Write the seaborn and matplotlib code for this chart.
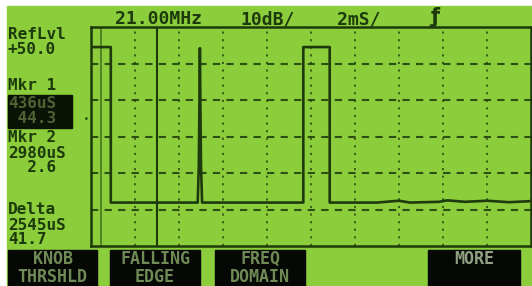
import matplotlib.pyplot as plt
import seaborn as sns
from matplotlib.patches import Rectangle

# Screen readout values
center_freq = "21.00MHz"
scale_db = "10dB/"
sweep_time = "2mS/"
ref_level_db = 50.0
db_per_div = 10
ms_per_div = 2
n_xdiv, n_ydiv = 10, 6

mkr1_ms, mkr1_db = 0.435, 44.3
mkr2_ms, mkr2_db = 2.98, 2.6
ref_block = "RefLvl\n+50.0"
mkr1_title = "Mkr 1"
mkr1_block = "436uS\n 44.3"
mkr2_block = "Mkr 2\n2980uS\n  2.6"
delta_block = "Delta\n2545uS\n41.7"
softkeys = ["KNOB\nTHRSHLD", "FALLING\nEDGE", "FREQ\nDOMAIN", None, "MORE\n "]

# Trace (time in ms, level in dB)
trace_ms = [0.0, 0.9, 0.9, 4.85, 4.9, 4.93, 4.95, 4.97, 5.0, 5.05, 9.65,
            9.65, 10.85, 10.85, 13.0, 14.0, 14.5, 15.8, 16.2, 17.0, 18.0,
            19.0, 20.0]
trace_db = [44.5, 44.5, 1.9, 1.9, 12.0, 30.0, 44.2, 30.0, 12.0, 1.9, 1.9,
            44.5, 44.5, 1.9, 1.9, 2.4, 1.9, 2.1, 2.5, 2.1, 2.4, 2.0, 2.3]

W, H = 532, 286
LCD = "#8bcd3b"
INK = "#1c3a0c"


def px(x, y):
    return x / W, 1 - y / H


sns.set_theme(style="white")
plt.rcParams["font.family"] = ["DejaVu Sans Mono", "DejaVu Sans"]

fig = plt.figure(figsize=(W / 100, H / 100), dpi=100, facecolor="white")
fig.add_artist(Rectangle((7 / W, 0), 1, 1 - 6 / H, transform=fig.transFigure,
                         color=LCD, zorder=0))

ax = fig.add_axes([91 / W, 40 / H, 440 / W, 219 / H])
ax.set_facecolor(LCD)
ax.set_xlim(0, n_xdiv * ms_per_div)
ax.set_ylim(ref_level_db - n_ydiv * db_per_div, ref_level_db)
ax.set_xticks([])
ax.set_yticks([])
for s in ax.spines.values():
    s.set_color(INK)
    s.set_linewidth(1.8)

# graticule
for i in range(1, n_xdiv):
    ax.axvline(i * ms_per_div, color=INK, lw=1.3, ls=(0, (1.2, 3.0)), alpha=0.8)
for j in range(1, n_ydiv):
    ax.axhline(ref_level_db - j * db_per_div, color=INK, lw=1.5,
               ls=(0, (3.5, 3.0)), alpha=0.85)

# markers
ax.axvline(mkr1_ms, color=INK, lw=1.3, alpha=0.55)
ax.axvline(mkr2_ms, color=INK, lw=1.5)

sns.lineplot(x=trace_ms, y=trace_db, ax=ax, sort=False, estimator=None,
             color=INK, lw=1.9)

# header
fig.text(*px(115, 19), center_freq, fontsize=13, color=INK, va="center",
         weight="bold")
fig.text(*px(240, 19), scale_db, fontsize=13, color=INK, va="center",
         weight="bold")
fig.text(*px(337, 19), sweep_time, fontsize=13, color=INK, va="center",
         weight="bold")
fig.text(*px(430, 17), "ƒ", fontsize=15, color=INK, va="center",
         family="DejaVu Sans", weight="bold")

# left readouts
fs = 11.5
ls = 1.0
left_kw = dict(fontsize=fs, va="center", weight="bold", linespacing=ls,
               zorder=2)
fig.text(*px(8, 42), ref_block, color=INK, **left_kw)
fig.text(*px(8, 86), mkr1_title, color=INK, **left_kw)
fig.add_artist(Rectangle((8 / W, 1 - 128 / H), 64 / W, 33 / H,
                         transform=fig.transFigure, color="#0b1206", zorder=1))
fig.text(*px(8, 111), mkr1_block, color="#4e6234", **left_kw)
fig.text(*px(8, 153), mkr2_block, color=INK, **left_kw)
fig.text(*px(8, 225), delta_block, color=INK, **left_kw)
fig.text(*px(86, 119), "•", fontsize=6, color=INK, va="center", ha="center")

# softkeys
boxes = [(8, 97), (110, 200), (215, 305), None, (428, 520)]
for key, box in zip(softkeys, boxes):
    if key is None:
        continue
    x0, x1 = box
    fig.add_artist(Rectangle((x0 / W, 0), (x1 - x0) / W, 36 / H,
                             transform=fig.transFigure, color="#050805",
                             zorder=1))
    col = "#93a183" if key.startswith("MORE") else "#6f8a55"
    fig.text(*px((x0 + x1) / 2, 268), key, fontsize=12, color=col,
             ha="center", va="center", multialignment="center",
             linespacing=1.0, zorder=2, weight="bold")

fig.savefig("out.png", dpi=100, facecolor=fig.get_facecolor())
